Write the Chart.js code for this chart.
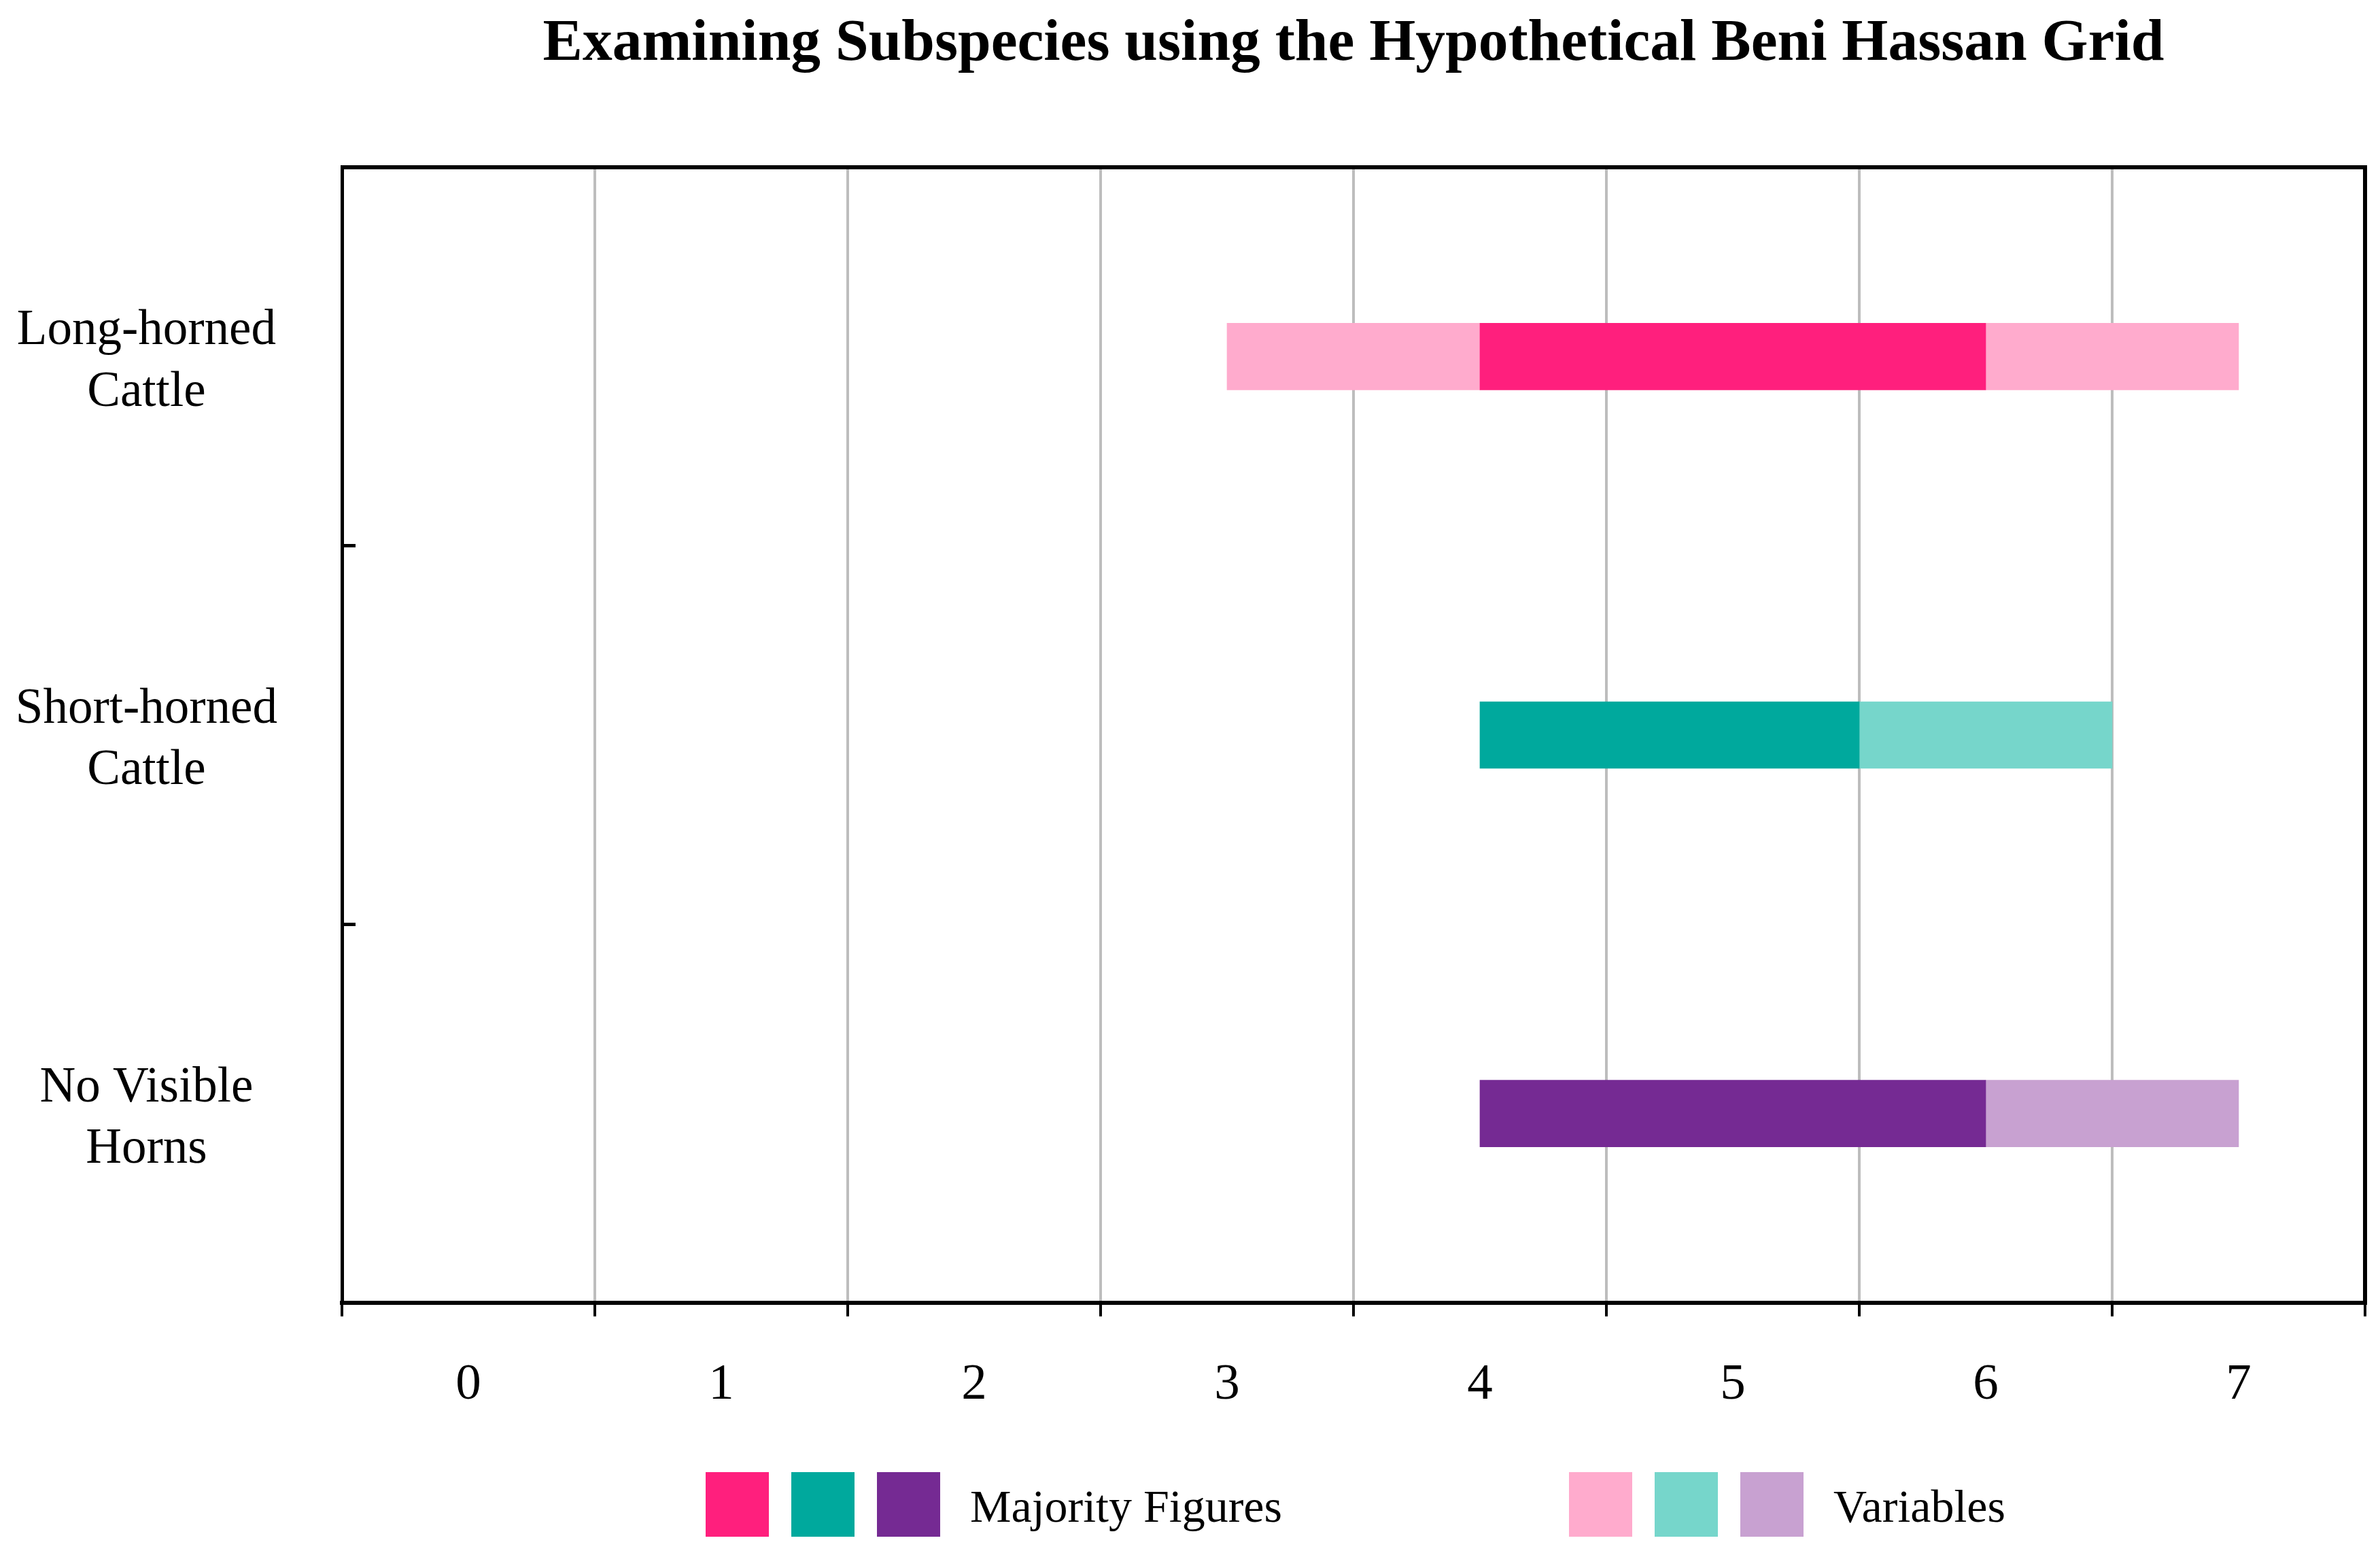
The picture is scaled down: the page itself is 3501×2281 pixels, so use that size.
<!DOCTYPE html>
<html>
<head>
<meta charset="utf-8">
<script src="https://cdn.jsdelivr.net/npm/chart.js@4"></script>
<style>
  html, body { margin: 0; padding: 0; background: #fff; }
  #wrap { width: 3501px; height: 2281px; position: relative; }
</style>
</head>
<body>
<div id="wrap"><canvas id="gridChart"></canvas></div>
<script>
const titleText = "Examining Subspecies using the Hypothetical Beni Hassan Grid";
const categories = [["Long-horned", "Cattle"], ["Short-horned", "Cattle"], ["No Visible", "Horns"]];
const xTickLabels = ["0", "1", "2", "3", "4", "5", "6", "7"];

// majority figures span per subspecies
const majorityStart = [4, 4, 4];
const majorityEnd = [6, 5.5, 6];
// variable spans (left and right of the majority)
const variableLeftStart = [3, null, null];
const variableLeftEnd = [4, null, null];
const variableRightStart = [6, 5.5, 6];
const variableRightEnd = [7, 6.5, 7];

const legendLabels = ["Majority Figures", "Variables"];
const majorityColors = ["#FF1F7D", "#00A99D", "#752A93"];
const variableColors = ["#FFABCD", "#76D6CB", "#C8A1D1"];

const serif = "'Liberation Serif', 'Times New Roman', serif";

function spans(starts, ends) {
  return starts.map((s, i) => (s === null ? null : [s, ends[i]]));
}

const frameAndText = {
  id: "frameAndText",
  afterDraw(chart) {
    const { ctx, chartArea: a } = chart;
    ctx.save();
    // top and right frame lines
    ctx.strokeStyle = "#000";
    ctx.lineWidth = 6;
    ctx.beginPath();
    ctx.moveTo(a.left - 2, a.top);
    ctx.lineTo(a.right, a.top);
    ctx.lineTo(a.right, a.bottom + 3);
    ctx.stroke();

    const cx = (a.left + a.right) / 2;
    ctx.fillStyle = "#000";
    ctx.textAlign = "center";
    ctx.textBaseline = "alphabetic";
    ctx.font = "bold 87.5px " + serif;
    ctx.fillText(titleText, cx, 88);

    // legend: three swatches per group
    const groups = [majorityColors, variableColors];
    const starts = [cx - 953, cx + 317];
    ctx.font = "68px " + serif;
    ctx.textAlign = "left";
    groups.forEach((cols, g) => {
      let x = starts[g];
      cols.forEach((c) => {
        ctx.fillStyle = c;
        ctx.fillRect(x, 2165, 93, 95);
        x += 126;
      });
      ctx.fillStyle = "#000";
      ctx.fillText(legendLabels[g], x - 33 + 44, 2238);
    });
    ctx.restore();
  }
};

const ctx = document.getElementById("gridChart").getContext("2d");
new Chart(ctx, {
  type: "bar",
  data: {
    labels: categories,
    datasets: [
      { label: legendLabels[0], data: spans(majorityStart, majorityEnd), backgroundColor: majorityColors, order: 1 },
      { label: legendLabels[1], data: spans(variableLeftStart, variableLeftEnd), backgroundColor: variableColors, order: 2 },
      { label: legendLabels[1], data: spans(variableRightStart, variableRightEnd), backgroundColor: variableColors, order: 2 }
    ]
  },
  options: {
    indexAxis: "y",
    responsive: true,
    maintainAspectRatio: false,
    animation: false,
    datasets: {
      bar: { grouped: false, barThickness: 98, borderWidth: 0 }
    },
    layout: { padding: { top: 246, right: 22, bottom: 205, left: 0 } },
    plugins: {
      legend: { display: false },
      title: { display: false },
      tooltip: { enabled: false }
    },
    scales: {
      x: {
        type: "linear",
        min: -0.5,
        max: 7.5,
        afterFit(scale) { scale.height = 160; },
        ticks: {
          stepSize: 0.5,
          autoSkip: false,
          maxRotation: 0,
          minRotation: 0,
          padding: 19,
          color: "#000",
          font: { family: serif, size: 75, lineHeight: 2.2 },
          callback: (v) => (Number.isInteger(v) ? xTickLabels[v] : "")
        },
        grid: {
          color: (c) => (c.tick && !Number.isInteger(c.tick.value) ? "#bdbdbd" : "rgba(0,0,0,0)"),
          lineWidth: 4,
          tickLength: 20,
          tickColor: (c) => (c.tick && !Number.isInteger(c.tick.value) ? "#000" : "rgba(0,0,0,0)"),
          tickWidth: 4
        },
        border: { color: "#000", width: 6 }
      },
      y: {
        afterFit(scale) { scale.width = 503; },
        ticks: {
          crossAlign: "center",
          padding: 115,
          labelOffset: 8,
          color: "#000",
          font: { family: serif, size: 73, lineHeight: 1.24 }
        },
        grid: {
          offset: true,
          drawOnChartArea: false,
          tickLength: -20,
          tickColor: "#000",
          tickWidth: 5
        },
        border: { color: "#000", width: 5 }
      }
    }
  },
  plugins: [frameAndText]
});
</script>
</body>
</html>
